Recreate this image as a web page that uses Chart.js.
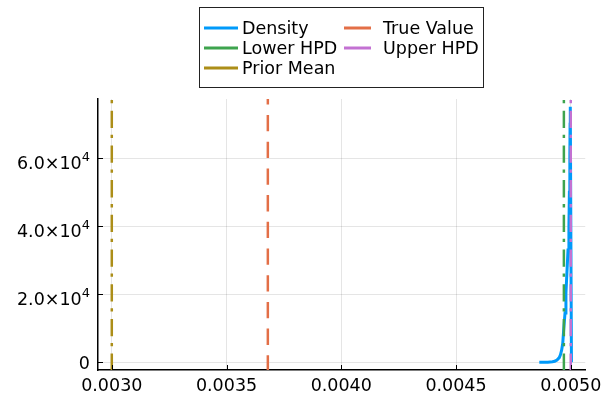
<!DOCTYPE html>
<html>
<head>
<meta charset="utf-8">
<script src="https://cdn.jsdelivr.net/npm/chart.js@4"></script>
<style>
    html, body { margin: 0; padding: 0; background: #fff; }
    canvas { display: block; }
</style>
</head>
<body>
<canvas id="density-chart" width="608" height="400"></canvas>
<script>
// Posterior density of the parameter
const densityX = [0.004863, 0.00488, 0.0049, 0.00492, 0.00493, 0.00494, 0.00495, 0.004955,
    0.00496, 0.004965, 0.004969, 0.004975, 0.004979, 0.004983, 0.004988, 0.004992,
    0.004994, 0.004996, 0.004997, 0.004998, 0.005003];
const densityY = [0, 5, 30, 150, 300, 700, 1400, 2200,
    3500, 5500, 9400, 14500, 20300, 26000, 33000, 40000,
    50000, 60000, 70000, 75150, 0];

// Reference values drawn as vertical lines
const trueValue = 0.00368;
const lowerHPD = 0.00497;
const upperHPD = 0.005;
const priorMean = 0.003;

const seriesNames = ['Density', 'True Value', 'Lower HPD', 'Upper HPD', 'Prior Mean'];
const seriesColors = ['#009AFA', '#E36F47', '#3EA44E', '#C371D2', '#AC8E18'];

const xTicks = [0.003, 0.0035, 0.004, 0.0045, 0.005];
const xTickLabels = ['0.0030', '0.0035', '0.0040', '0.0045', '0.0050'];
const yTicks = [0, 20000, 40000, 60000];
const yTickLabels = [['0', ''], ['2.0×10', '4'], ['4.0×10', '4'], ['6.0×10', '4']];

const FONT = '"DejaVu Sans", sans-serif';
const FONT_SIZE = 17.5;

// axis limits: data extent widened by 3% on each side
const xLo = Math.min(priorMean, trueValue, lowerHPD, upperHPD, ...densityX);
const xHi = Math.max(priorMean, trueValue, lowerHPD, upperHPD, ...densityX);
const yLo = Math.min(...densityY);
const yHi = Math.max(...densityY);
const xMin = xLo - 0.03 * (xHi - xLo), xMax = xHi + 0.03 * (xHi - xLo);
const yMin = yLo - 0.03 * (yHi - yLo), yMax = yHi + 0.03 * (yHi - yLo);

function vline(v) {
    return [{x: v, y: yMax}, {x: v, y: yMin}];
}

const dash = [16.3, 10.4];
const dashDot = [17.3, 6.7, 3.3, 7.4];

// inward tick marks, y tick labels with exponents, and the boxed legend
const decorations = {
    id: 'decorations',
    afterDraw(chart) {
        const ctx = chart.ctx;
        const xs = chart.scales.x, ys = chart.scales.y;
        const area = chart.chartArea;
        ctx.save();
        ctx.strokeStyle = '#000';
        ctx.lineWidth = 1;
        ctx.beginPath();
        xTicks.forEach(v => {
            const px = Math.round(xs.getPixelForValue(v)) + 0.5;
            ctx.moveTo(px, area.bottom);
            ctx.lineTo(px, area.bottom - 5);
        });
        yTicks.forEach(v => {
            const py = Math.round(ys.getPixelForValue(v)) + 0.5;
            ctx.moveTo(area.left, py);
            ctx.lineTo(area.left + 5, py);
        });
        ctx.stroke();

        ctx.fillStyle = '#000';
        ctx.textBaseline = 'alphabetic';
        yTicks.forEach((v, i) => {
            const py = ys.getPixelForValue(v);
            const [main, sup] = yTickLabels[i];
            const right = area.left - 8;
            if (!sup) {
                ctx.font = FONT_SIZE + 'px ' + FONT;
                ctx.textAlign = 'right';
                ctx.fillText(main, right, py + 6.5);
                return;
            }
            ctx.font = '13px ' + FONT;
            const supW = ctx.measureText(sup).width;
            ctx.textAlign = 'left';
            ctx.fillText(sup, right - supW, py + 2.3);
            ctx.font = FONT_SIZE + 'px ' + FONT;
            ctx.textAlign = 'right';
            ctx.fillText(main, right - supW, py + 10.6);
        });

        // legend box
        ctx.fillStyle = '#fff';
        ctx.fillRect(199.5, 7.5, 284, 80);
        ctx.strokeStyle = '#222';
        ctx.strokeRect(199.5, 7.5, 284, 80);
        const cols = [{l0: 204, l1: 238, tx: 242}, {l0: 344, l1: 371, tx: 383}];
        ctx.font = FONT_SIZE + 'px ' + FONT;
        ctx.textAlign = 'left';
        chart.data.datasets.forEach((ds, i) => {
            const c = cols[i % 2];
            const cy = 28 + 20 * Math.floor(i / 2);
            ctx.strokeStyle = ds.borderColor;
            ctx.lineWidth = 3;
            ctx.beginPath();
            ctx.moveTo(c.l0, cy);
            ctx.lineTo(c.l1, cy);
            ctx.stroke();
            ctx.fillStyle = '#000';
            ctx.fillText(ds.label, c.tx, cy + 5.5);
        });
        ctx.restore();
    }
};

const ctx = document.getElementById('density-chart').getContext('2d');
new Chart(ctx, {
    type: 'scatter',
    data: {
        datasets: [{
            label: seriesNames[0],
            data: densityX.map((x, i) => ({x: x, y: densityY[i]})),
            borderColor: seriesColors[0],
            borderWidth: 3,
            order: 5
        }, {
            label: seriesNames[1],
            data: vline(trueValue),
            borderColor: seriesColors[1],
            borderWidth: 2.5,
            borderDash: dash,
            borderDashOffset: 10.7,
            order: 4
        }, {
            label: seriesNames[2],
            data: vline(lowerHPD),
            borderColor: seriesColors[2],
            borderWidth: 2.5,
            borderDash: dashDot,
            borderDashOffset: 23,
            order: 3
        }, {
            label: seriesNames[3],
            data: vline(upperHPD),
            borderColor: seriesColors[3],
            borderWidth: 2.5,
            borderDash: dashDot,
            borderDashOffset: 23,
            order: 2
        }, {
            label: seriesNames[4],
            data: vline(priorMean),
            borderColor: seriesColors[4],
            borderWidth: 2.5,
            borderDash: dashDot,
            borderDashOffset: 23,
            order: 1
        }]
    },
    options: {
        responsive: false,
        devicePixelRatio: 1,
        animation: false,
        showLine: true,
        elements: {
            point: { radius: 0, hoverRadius: 0 },
            line: { tension: 0, fill: false }
        },
        layout: { padding: { left: 0, top: 99, right: 21, bottom: 0 } },
        plugins: {
            legend: { display: false },
            tooltip: { enabled: false }
        },
        scales: {
            x: {
                type: 'linear',
                min: xMin,
                max: xMax,
                afterBuildTicks: scale => { scale.ticks = xTicks.map(v => ({value: v})); },
                afterFit: scale => { scale.height = 30; },
                grid: { color: 'rgba(0,0,0,0.1)', drawTicks: false },
                border: { display: true, color: '#000', width: 1.5 },
                ticks: {
                    color: '#000',
                    font: { family: FONT, size: FONT_SIZE },
                    padding: 6,
                    maxRotation: 0,
                    callback: (v, i) => xTickLabels[i]
                }
            },
            y: {
                type: 'linear',
                min: yMin,
                max: yMax,
                afterBuildTicks: scale => { scale.ticks = yTicks.map(v => ({value: v})); },
                afterFit: scale => { scale.width = 98; },
                grid: { color: 'rgba(0,0,0,0.1)', drawTicks: false },
                border: { display: true, color: '#000', width: 1.5 },
                ticks: { display: false }
            }
        }
    },
    plugins: [decorations]
});
</script>
</body>
</html>
